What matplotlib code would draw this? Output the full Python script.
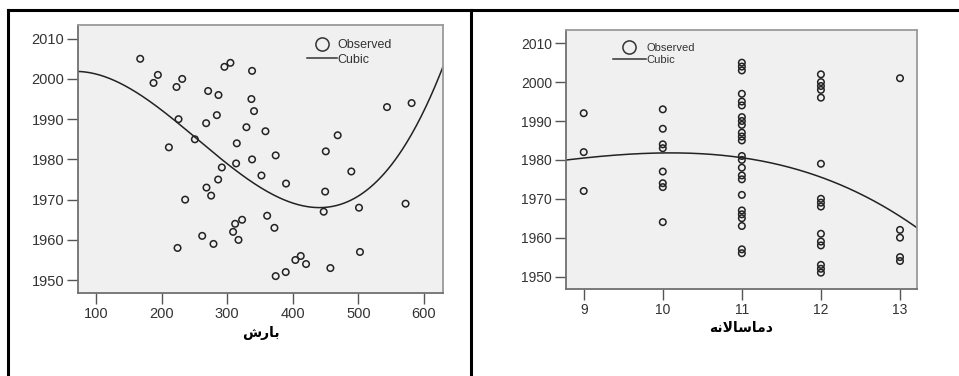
import numpy as np
import matplotlib
matplotlib.use('Agg')
import matplotlib.pyplot as plt
from matplotlib.lines import Line2D

plt.rcParams['font.family'] = ['Liberation Sans', 'DejaVu Sans']

# left panel: precipitation vs year
precip = [167.5, 194.4, 187.8, 222.8, 231.5, 225.9, 211.2, 250.8, 271, 286.8,
          284.3, 268, 295.9, 305, 338, 337, 341, 329.4, 358.4, 314.7,
          313.7, 338, 374, 291.9, 286.3, 352.3, 389.8, 268.5, 275.6, 236,
          450.4, 468.5, 489.3, 449.4, 447.2, 501, 543.7, 581.2, 572, 361,
          372.1, 322.8, 312.2, 309.1, 317.3, 262, 279.2, 224.4, 502.5, 404,
          412.2, 420.3, 457.4, 389.3, 374]
years_p = [2005, 2001, 1999, 1998, 2000, 1990, 1983, 1985, 1997, 1996,
           1991, 1989, 2003, 2004, 2002, 1995, 1992, 1988, 1987, 1984,
           1979, 1980, 1981, 1978, 1975, 1976, 1974, 1973, 1971, 1970,
           1982, 1986, 1977, 1972, 1967, 1968, 1993, 1994, 1969, 1966,
           1963, 1965, 1964, 1962, 1960, 1961, 1959, 1958, 1957, 1955,
           1956, 1954, 1953, 1952, 1951]

# right panel: annual temperature vs year
temp_t = [9, 9, 9,
          10, 10, 10, 10, 10, 10, 10, 10,
          11, 11, 11, 11, 11, 11, 11, 11, 11, 11, 11, 11,
          11, 11, 11, 11, 11, 11, 11, 11, 11, 11, 11, 11,
          12, 12, 12, 12, 12, 12, 12, 12, 12, 12, 12, 12, 12, 12, 12,
          13, 13, 13, 13, 13]
years_t = [1992, 1982, 1972,
           1993, 1988, 1984, 1983, 1977, 1974, 1973, 1964,
           2005, 2004, 2003, 1997, 1995, 1994, 1991, 1990, 1989, 1987, 1986, 1985,
           1981, 1980, 1978, 1976, 1975, 1971, 1967, 1966, 1965, 1963, 1957, 1956,
           2002, 2000, 1999, 1998, 1996, 1979, 1970, 1969, 1968, 1961, 1959, 1958,
           1953, 1952, 1951,
           2001, 1962, 1960, 1955, 1954]

yticks = [1950, 1960, 1970, 1980, 1990, 2000, 2010]
xticks_p = [100, 200, 300, 400, 500, 600]
xticks_t = [9, 10, 11, 12, 13]

# x labels in Persian, shaped by hand (presentation forms, visual order)
label_p = '\uFEB5\uFEAD\uFE8E\uFE91'                              # بارش
label_t = '\uFEEA\uFEE7\uFEFB\uFE8E\uFEB3\uFE8E\uFEE3\uFEA9'      # دماسالانه

fig = plt.figure(figsize=(9.59, 3.76), dpi=100)
ax1 = fig.add_axes([0.0813, 0.2207, 0.3806, 0.7128])
ax2 = fig.add_axes([0.5902, 0.2314, 0.3660, 0.6888])


def style(ax, fs):
    ax.set_facecolor('#f0f0f0')
    for s in ax.spines.values():
        s.set_color('#9a9a9a')
        s.set_linewidth(1.3)
    ax.spines['left'].set_color('#707070')
    ax.spines['bottom'].set_color('#707070')
    ax.tick_params(direction='out', length=8, width=1, color='#555555',
                   labelcolor='#333333', labelsize=fs, pad=2)


def panel(ax, x, y, xlim, xticks, label, fs, labely):
    style(ax, fs)
    ax.scatter(x, y, s=22, facecolors='none', edgecolors='#222222',
               linewidths=1.1, zorder=3)
    # cubic curve estimation, year on the predictor
    coef = np.polyfit(x, y, 3)
    xs = np.linspace(xlim[0], xlim[1], 300)
    ax.plot(xs, np.polyval(coef, xs), color='#222222', lw=1.1, zorder=2)
    ax.set_xlim(xlim)
    ax.set_ylim(1946.8, 2013.4)
    ax.set_xticks(xticks)
    ax.set_yticks(yticks)
    ax.text(0.5, labely, label, transform=ax.transAxes, ha='center',
            va='center', fontsize=10, fontweight='bold',
            family=['DejaVu Sans'])
    return coef


panel(ax1, precip, years_p, (72.6, 629), xticks_p, label_p, 10.5, -0.15)
panel(ax2, temp_t, years_t, (8.776, 13.215), xticks_t, label_t, 10, -0.15)

h_obs = Line2D([], [], ls='none', marker='o', markersize=9.5,
               markerfacecolor='none', markeredgecolor='#333333', mew=1.1)
h_cub = Line2D([], [], color='#333333', lw=1.1)

ax1.legend([h_obs, h_cub], ['Observed', 'Cubic'], loc='upper left',
           bbox_to_anchor=(0.604, 0.98), frameon=False, fontsize=9,
           handlelength=2.4, handletextpad=0.0, labelspacing=0.2,
           borderpad=0.2, labelcolor='#333333')
ax2.legend([h_obs, h_cub], ['Observed', 'Cubic'], loc='upper left',
           bbox_to_anchor=(0.111, 0.98), frameon=False, fontsize=8,
           handlelength=3.0, handletextpad=0.0, labelspacing=0.2,
           borderpad=0.2, labelcolor='#333333')

# table-like borders around the two panels
fig.add_artist(Line2D([0.0083, 1.0], [0.9734, 0.9734], color='black', lw=2.2))
fig.add_artist(Line2D([0.0083, 0.0083], [0.0, 0.9734], color='black', lw=2.2))
fig.add_artist(Line2D([0.4911, 0.4911], [0.0, 0.9734], color='black', lw=2.2))

fig.savefig('out.png', dpi=100)
